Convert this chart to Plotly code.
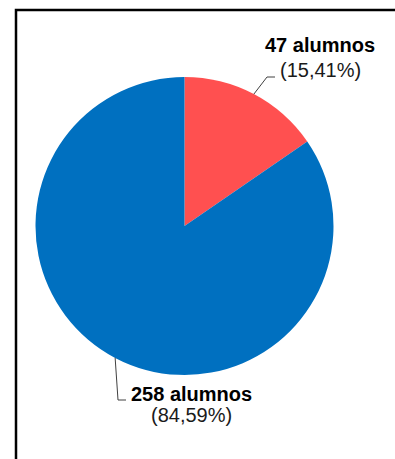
import math
import plotly.graph_objects as go

# Students per group
labels = ["Grupo A", "Grupo B"]
counts = [47, 258]
count_text = ["47 alumnos", "258 alumnos"]
pct_text = ["(15,41%)", "(84,59%)"]
colors = ["#FF5050", "#0070C0"]

W, H = 395, 459
CX, CY, R = 184.5, 226.0, 149.0          # pie centre and radius in px

# label placement (px): elbow of leader, end of leader, centre of bold line, centre of percent line
label_layout = [
    dict(elbow=(267, 77), end=(275, 77), bold=(320, 45.5), pct=(320.5, 70)),
    dict(elbow=(118, 400), end=(126, 400), bold=(191.5, 393.5), pct=(191, 415)),
]


def px(x, y):
    return x / W, 1 - y / H


fig = go.Figure(
    go.Pie(
        labels=labels,
        values=counts,
        sort=False,
        direction="clockwise",
        rotation=0,
        marker=dict(colors=colors, line=dict(width=0)),
        textinfo="none",
        hoverinfo="label+value+percent",
        showlegend=False,
        domain=dict(
            x=[(CX - R) / W, (CX + R) / W],
            y=[1 - (CY + R) / H, 1 - (CY - R) / H],
        ),
    )
)

shapes = []
annotations = []
total = sum(counts)
cum = 0
for i, v in enumerate(counts):
    mid = 2 * math.pi * (cum + v / 2) / total
    cum += v
    ex, ey = CX + R * math.sin(mid), CY - R * math.cos(mid)
    lay = label_layout[i]
    pts = [px(ex, ey), px(*lay["elbow"]), px(*lay["end"])]
    path = "M {} {} L {} {} L {} {}".format(*[c for p in pts for c in p])
    shapes.append(dict(type="path", xref="paper", yref="paper", path=path,
                       line=dict(color="#404040", width=1)))
    bx, by = px(*lay["bold"])
    annotations.append(dict(x=bx, y=by, xref="paper", yref="paper", showarrow=False,
                            xanchor="center", yanchor="middle",
                            text="<b>" + count_text[i] + "</b>",
                            font=dict(family="Liberation Sans, Arial", size=20, color="#000000")))
    qx, qy = px(*lay["pct"])
    annotations.append(dict(x=qx, y=qy, xref="paper", yref="paper", showarrow=False,
                            xanchor="center", yanchor="middle",
                            text=pct_text[i],
                            font=dict(family="Liberation Sans, Arial", size=20, color="#1a1a1a")))

# chart frame (left and top edges visible)
fx0, fy0 = px(16, 10)
fx1, fy1 = px(420, 480)
shapes.append(dict(type="rect", xref="paper", yref="paper", x0=fx0, y0=fy1, x1=fx1, y1=fy0,
                   line=dict(color="#000000", width=2.5), fillcolor="rgba(0,0,0,0)"))

fig.update_layout(
    width=W, height=H,
    margin=dict(l=0, r=0, t=0, b=0),
    paper_bgcolor="white",
    plot_bgcolor="white",
    shapes=shapes,
    annotations=annotations,
)

fig.write_html("out.html")
